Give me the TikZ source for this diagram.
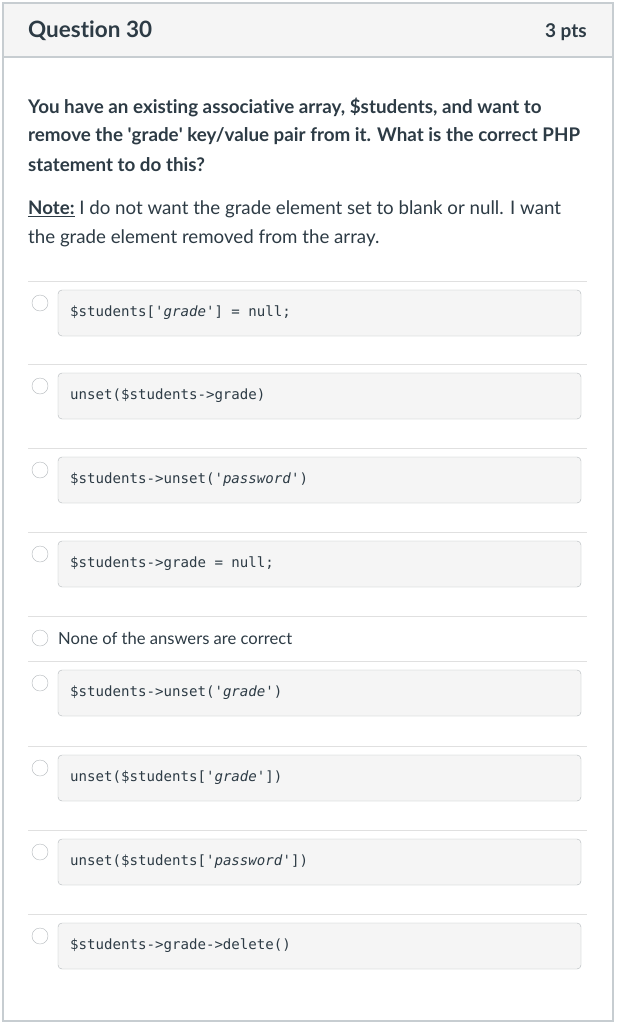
\documentclass[tikz,border=0pt]{standalone}
\usepackage{fontspec}
\setmainfont[RawFeature=-liga]{Lato}
\setmonofont{DejaVu Sans Mono}
\definecolor{txt}{HTML}{2D3B45}
\definecolor{brd}{HTML}{C7CDD1}
\definecolor{hdr}{HTML}{F5F5F5}
\definecolor{sep}{HTML}{E0E0E0}
\tikzset{
  body/.style={anchor=west,inner sep=0pt,text=txt,font=\fontsize{18.7}{22}\selectfont},
  bodyb/.style={body,font=\fontsize{18.8}{22}\selectfont\bfseries},
  codebox/.style={draw=brd!90!black,fill=hdr,rounded corners=4pt},
  code/.style={anchor=west,inner sep=0pt,text=txt,font=\fontsize{14.1}{16}\ttfamily},
  radio/.style={circle,draw=brd!90!black,fill=white,minimum size=16pt,inner sep=0pt},
  sepline/.style={draw=sep,line width=1pt}
}
\newcommand{\st}[1]{\textquotesingle\textit{#1}\textquotesingle}
\begin{document}
\begin{tikzpicture}[x=1pt,y=-1pt]
\useasboundingbox (0,0) rectangle (617,1024);
\fill[white] (0,0) rectangle (617,1024);
\draw[brd,fill=hdr,line width=1.2pt] (3,3) rectangle (613,57);
\draw[brd,line width=1.2pt] (3,57) rectangle (613,1021);
\node[bodyb,font=\fontsize{22.5}{26}\selectfont\bfseries] (q) at (28,31) {Question 30};
\node[bodyb,anchor=east,font=\fontsize{19}{22}\selectfont\bfseries] (p) at (587,32) {3 pts};
\node[bodyb] (l1) at (28,107) {You have an existing associative array, \$students, and want to};
\node[bodyb] (l2) at (28,136) {remove the \textquotesingle grade\textquotesingle\ key/value pair from it. What is the correct PHP};
\node[bodyb] (l3) at (28,165) {statement to do this?};
\node[body] (n1) at (28,209) {\textbf{\underline{Note:}} I do not want the grade element set to blank or null. I want};
\node[body] (n2) at (28,238) {the grade element removed from the array.};
\foreach \s/\t [count=\i] in {
  281/{\$students[\st{grade}] = null;},
  364/{unset(\$students->grade)},
  448/{\$students->unset(\st{password})},
  532/{\$students->grade = null;},
  661/{\$students->unset(\st{grade})},
  746/{unset(\$students[\st{grade}])},
  830/{unset(\$students[\st{password}])},
  914/{\$students->grade->delete()}} {
  \draw[sepline] (28,\s) -- (587,\s);
  \draw[codebox] (58,\s+9) rectangle (581,\s+55);
  \node[radio] (r\i) at (40,\s+22) {};
  \node[code] (c\i) at (70,\s+32) {\t};
}
\draw[sepline] (28,616) -- (587,616);
\node[radio] (rn) at (40,638) {};
\node[body,font=\fontsize{16.6}{19}\selectfont] (none) at (58,638) {None of the answers are correct};
\end{tikzpicture}
\end{document}
